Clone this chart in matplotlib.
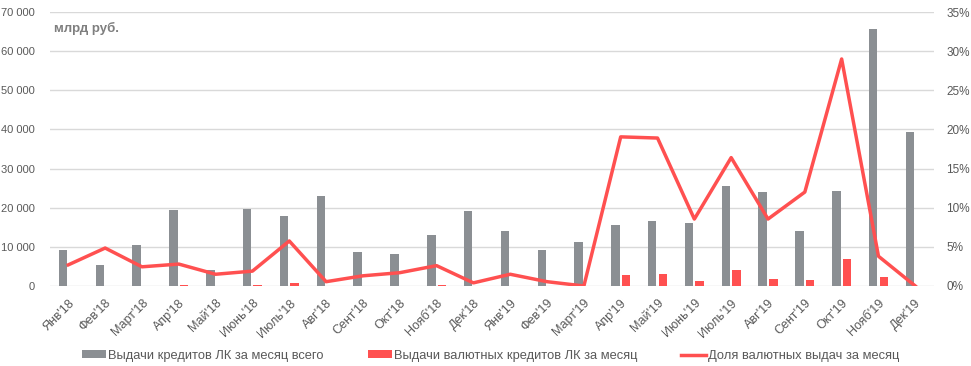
import matplotlib.pyplot as plt
import numpy as np
from matplotlib.ticker import FuncFormatter, MultipleLocator

plt.rcParams['font.family'] = ['Liberation Sans', 'DejaVu Sans']

# данные
months = ["Янв'18", "Фев'18", "Март'18", "Апр'18", "Май'18", "Июнь'18", "Июль'18", "Авг'18",
          "Сент'18", "Окт'18", "Нояб'18", "Дек'18", "Янв'19", "Фев'19", "Март'19", "Апр'19",
          "Май'19", "Июнь'19", "Июль'19", "Авг'19", "Сент'19", "Окт'19", "Нояб'19", "Дек'19"]
total = [9200, 5400, 10500, 19400, 4100, 19700, 17900, 23000,
         8700, 8200, 13000, 19200, 14100, 9200, 11200, 15600,
         16600, 16100, 25500, 24000, 14100, 24300, 65700, 39300]
currency = [0, 0, 0, 300, 0, 300, 800, 0,
            0, 0, 250, 0, 0, 0, 0, 2800,
            3100, 1300, 4100, 1800, 1600, 6900, 2300, 0]
share = [2.7, 4.85, 2.45, 2.8, 1.5, 1.9, 5.75, 0.55,
         1.3, 1.7, 2.6, 0.4, 1.5, 0.55, 0.0, 19.05,
         18.9, 8.55, 16.4, 8.55, 12.0, 29.0, 3.8, 0.0]

gray = '#8b8f93'
red = '#ff5050'
txt = '#595959'

fig = plt.figure(figsize=(9.71, 3.66), dpi=100)
ax1 = fig.add_axes([0.0514, 0.2186, 0.9102, 0.7486])
ax2 = ax1.twinx()

x = np.arange(len(months))
w = 0.23
b1 = ax1.bar(x - 0.143, total, width=w, color=gray, zorder=2,
             label='Выдачи кредитов ЛК за месяц всего')
b2 = ax1.bar(x + 0.143, currency, width=w, color=red, zorder=2,
             label='Выдачи валютных кредитов ЛК за месяц')
l1, = ax2.plot(x, share, color=red, linewidth=2.5, zorder=3,
               label='Доля валютных выдач за месяц')

ax1.set_xlim(-0.5, len(months) - 0.5)
ax1.set_ylim(0, 70000)
ax2.set_ylim(0, 35)
ax1.yaxis.set_major_locator(MultipleLocator(10000))
ax2.yaxis.set_major_locator(MultipleLocator(5))
ax1.yaxis.set_major_formatter(FuncFormatter(lambda v, p: f'{int(v):,}'.replace(',', ' ')))
ax2.yaxis.set_major_formatter(FuncFormatter(lambda v, p: f'{int(v)}%'))

ax1.grid(axis='y', color='#d9d9d9', linewidth=1, zorder=0)
ax1.set_axisbelow(True)
for a in (ax1, ax2):
    for s in a.spines.values():
        s.set_visible(False)
    a.tick_params(length=0, colors=txt, labelsize=8)
ax1.tick_params(axis='y', pad=11)
ax2.tick_params(axis='y', pad=9, labelsize=8.5)

ax1.set_xticks(x)
ax1.set_xticklabels(months, rotation=45, ha='right', rotation_mode='anchor',
                    fontsize=9, color=txt)
ax1.tick_params(axis='x', pad=8)

ax1.text(0.005, 0.965, 'млрд руб.', transform=ax1.transAxes, fontsize=9.5,
         fontweight='bold', color='#7f7f7f', va='top', ha='left')

fig.legend([b1, b2, l1], [b1.get_label(), b2.get_label(), l1.get_label()],
           loc='center', bbox_to_anchor=(0.505, 0.028), ncol=3, frameon=False,
           fontsize=9.3, labelcolor=txt, handlelength=1.9, handleheight=0.5,
           handletextpad=0.15, columnspacing=3.4)

plt.savefig('out.png', dpi=100)
